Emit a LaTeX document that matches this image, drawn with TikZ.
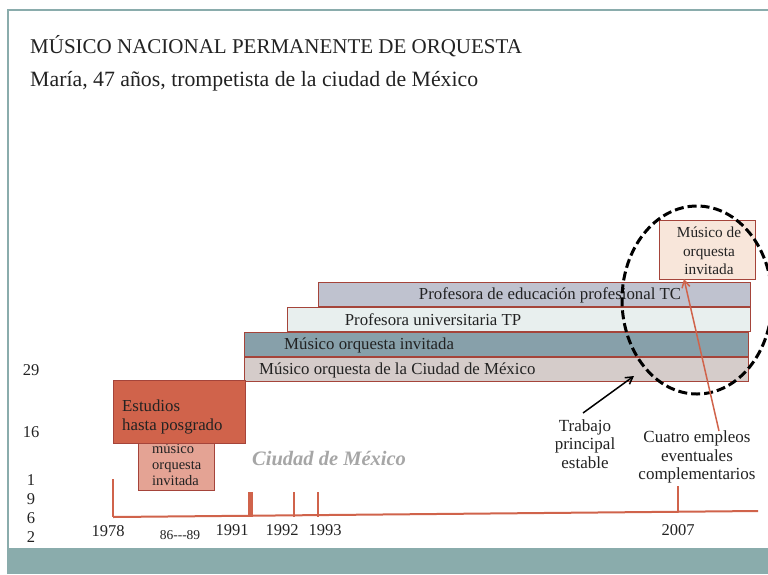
\documentclass[tikz,border=0pt]{standalone}
\usepackage{fontspec}
\setmainfont{Liberation Serif}
\usetikzlibrary{arrows.meta}
\definecolor{teal}{HTML}{8AACAC}
\definecolor{orng}{HTML}{D0634B}
\definecolor{brd}{HTML}{A5443A}
\definecolor{lav}{HTML}{BFC2CF}
\definecolor{pale}{HTML}{E8EFEE}
\definecolor{slate}{HTML}{87A0AA}
\definecolor{rose}{HTML}{D5CCCA}
\definecolor{salmon}{HTML}{E4A394}
\definecolor{peach}{HTML}{F8E6DA}
\definecolor{txt}{HTML}{222222}
\tikzset{
  bar/.style={draw=brd, line width=1.4pt, anchor=north west, inner sep=0pt, text=txt},
  bartxt/.style={font=\fontsize{16.8}{18}\selectfont, text=txt, inner sep=0pt},
  yr/.style={font=\fontsize{16.5}{18}\selectfont, text=txt},
  tick/.style={draw=orng, line width=1.5pt},
  lbl/.style={font=\fontsize{17}{18.5}\selectfont, text=txt, align=center}
}
\begin{document}
\begin{tikzpicture}[x=1pt,y=-1pt]
\useasboundingbox (0,0) rectangle (768,574);
\clip (0,0) rectangle (768,574);
% frame
\fill[teal] (8,548) rectangle (768,574);
\draw[teal, line width=2pt] (8,574) -- (8,10) -- (768,10);
% titles
\node[anchor=base west, font=\fontsize{21}{24}\selectfont, text=txt, inner sep=0pt] (title) at (30,53) {MÚSICO NACIONAL PERMANENTE DE ORQUESTA};
\node[anchor=base west, font=\fontsize{21.8}{24}\selectfont, text=txt, inner sep=0pt] (sub) at (30,86) {María, 47 años, trompetista de la ciudad de México};
% bars
\node[bar, fill=lav, minimum width=432, minimum height=24] (tc) at (318,282) {};
\node[bartxt] (tct) at (550,295) {Profesora de educación profesional TC};
\node[bar, fill=pale, minimum width=463, minimum height=24] (tp) at (287,307) {};
\node[bartxt] (tpt) at (433,320) {Profesora universitaria TP};
\node[bar, fill=slate, minimum width=504, minimum height=24] (inv) at (244,332) {};
\node[bartxt, anchor=west] (invt) at (284,345) {Músico orquesta invitada};
\node[bar, fill=rose, minimum width=504, minimum height=24] (cdmx) at (244,357) {};
\node[bartxt, anchor=west] (cdmxt) at (259,370) {Músico orquesta de la Ciudad de México};
% small invitada box (behind Estudios)
\node[bar, fill=salmon, minimum width=76, minimum height=48] (mi) at (138,442) {};
\node[anchor=base west, align=left, font=\fontsize{14.5}{16}\selectfont, text=txt, inner sep=0pt] (mit) at (152,485) {músico\\orquesta\\invitada};
% Estudios
\node[bar, fill=orng, minimum width=132, minimum height=63] (est) at (113,380) {};
\node[anchor=base west, align=left, font=\fontsize{16.8}{18.5}\selectfont, text=txt, inner sep=0pt] (estt) at (122,430) {Estudios\\hasta posgrado};
% top right box
\node[bar, fill=peach, minimum width=96, minimum height=59] (top) at (659,220) {};
\node[align=center, font=\fontsize{15.3}{18.5}\selectfont, text=txt] (topt) at (709,251) {Músico de\\orquesta\\invitada};
% ellipse
\draw[black, line width=3pt, dash pattern=on 9pt off 4pt] (697,300) ellipse [x radius=75, y radius=94];
% labels and arrows
\node[lbl] (trab) at (585,444) {Trabajo\\principal\\estable};
\coordinate (trabA) at (583,413);
\coordinate (trabB) at (634,376);
\draw[black, line width=1.5pt, -{Straight Barb[length=7pt,width=8pt]}] (trabA) -- (trabB);
\node[lbl] (cuatro) at (697,457) {Cuatro empleos\\eventuales\\complementarios};
\coordinate (cA) at (719,431);
\coordinate (cB) at (684,279);
\draw[orng, line width=1.5pt, -{Straight Barb[length=7pt,width=8pt]}] (cA) -- (cB);
% Ciudad de Mexico
\node[anchor=base west, font=\fontsize{20.5}{22}\selectfont\bfseries\itshape, text=black!35, inner sep=0pt] (cdm) at (252,465) {Ciudad de México};
% timeline
\coordinate (t0) at (113,517);
\coordinate (t1) at (758,511);
\draw[orng, line width=2pt] (t0) -- (t1);
\draw[tick] (113,479) -- (113,517);
\fill[orng] (247.5,492) rectangle (252.5,517);
\draw[tick] (294,492) -- (294,517);
\draw[tick] (318,492) -- (318,517);
\draw[tick] (678,486) -- (678,512);
% year labels
\node[yr] (y78) at (108,531) {1978};
\node[font=\fontsize{13.5}{15}\selectfont, text=txt] (y86) at (180,535) {86-{}-{}-89};
\node[yr] (y91) at (232,530) {1991};
\node[yr] (y92) at (282,530) {1992};
\node[yr] (y93) at (325,530) {1993};
\node[yr] (y07) at (678,530) {2007};
% left numbers
\node[yr] (n29) at (31,370) {29};
\node[yr] (n16) at (31,432) {16};
\node[yr] (n1) at (31,480) {1};
\node[yr] (n9) at (31,499) {9};
\node[yr] (n6) at (31,518) {6};
\node[yr] (n2) at (31,537) {2};
\end{tikzpicture}
\end{document}
